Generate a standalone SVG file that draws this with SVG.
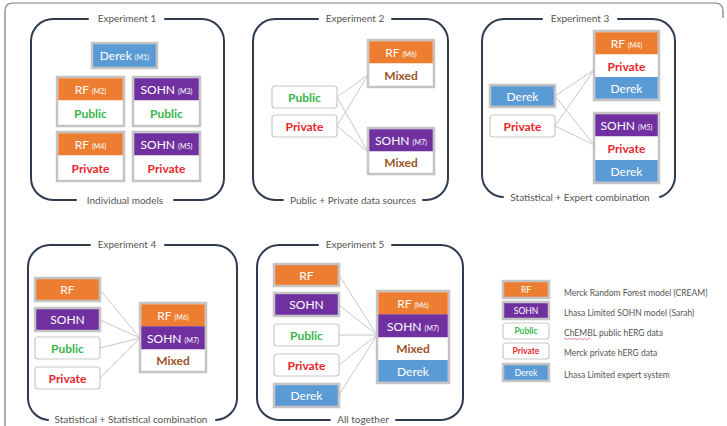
<svg xmlns="http://www.w3.org/2000/svg" width="727" height="426" viewBox="0 0 727 426">
<style>
text{font-family:Lato,"Open Sans","Liberation Sans",sans-serif;}
.frame{fill:none;stroke:#7a7a7a;stroke-width:1.2}
.br{fill:none;stroke:#2f3b4f;stroke-width:2;stroke-linecap:round}
.cap{font-size:10px;fill:#555;text-anchor:middle}
.box{stroke:#c4c4c4;stroke-width:2.5}
.or{fill:#ED7D31}.pu{fill:#7030A0}.bl{fill:#5B9BD5}.wh{fill:#fff}
.data{fill:#fff;stroke:#c9c9c9;stroke-width:1.2}
.lbl{font-size:12px;fill:#fff;text-anchor:middle}
.sm{font-size:7px}
.pub{font-size:12px;font-weight:bold;fill:#3AB54A;text-anchor:middle}
.pri{font-size:12px;font-weight:bold;fill:#E8262C;text-anchor:middle}
.mix{font-size:12px;font-weight:bold;fill:#9C5428;text-anchor:middle}
.ln{stroke:#c9c9c9;stroke-width:1;fill:none}
.lg{font-size:8.5px;text-anchor:middle}
.lt{font-size:8.5px;fill:#555}
</style>
<rect width="727" height="426" fill="#fff"/>
<path class="frame" d="M5,426 V11 Q5,3 13,3 H715 Q723,3 723,11 V18"/>

<g id="brackets">
<path class="br" d="M88,19 H53 A22 22 0 0 0 31,41 V178 A22 22 0 0 0 53,200 H76 M174,200 H202 A22 22 0 0 0 224,178 V41 A22 22 0 0 0 202,19 H165"/>
<text class="cap" x="127" y="22">Experiment 1</text>
<text class="cap" x="125" y="204">Individual models</text>

<path class="br" d="M318,19 H275 A22 22 0 0 0 253,41 V178 A22 22 0 0 0 275,200 H283 M423,200 H426 A22 22 0 0 0 448,178 V41 A22 22 0 0 0 426,19 H392"/>
<text class="cap" x="355" y="22">Experiment 2</text>
<text class="cap" x="353" y="204">Public + Private data sources</text>

<path class="br" d="M542,19 H504 A22 22 0 0 0 482,41 V175 A22 22 0 0 0 503,197 M660,197 A22 22 0 0 0 675,175 V41 A22 22 0 0 0 653,19 H618"/>
<text class="cap" x="580" y="201">Statistical + Expert combination</text>
<text class="cap" x="580" y="22">Experiment 3</text>

<path class="br" d="M90,245 H50 A22 22 0 0 0 28,267 V399 A22 22 0 0 0 48,420 M216,420 A22 22 0 0 0 237,399 V267 A22 22 0 0 0 215,245 H165"/>
<text class="cap" x="127" y="248">Experiment 4</text>
<text class="cap" x="131" y="423">Statistical + Statistical combination</text>

<path class="br" d="M318,245 H279 A22 22 0 0 0 257,267 V398 A22 22 0 0 0 279,420 H330 M396,420 H441 A22 22 0 0 0 463,398 V267 A22 22 0 0 0 441,245 H392"/>
<text class="cap" x="355" y="248">Experiment 5</text>
<text class="cap" x="363" y="422.5">All together</text>
</g>

<g id="connectors">
<path class="ln" d="M337,97 L368,75 M337,97 L368,152 M337,126 L368,75 M337,126 L368,152"/>
<path class="ln" d="M555,96 L594,70 M555,96 L594,145 M555,126 L594,70 M555,126 L594,145"/>
<path class="ln" d="M100,290 L140,338 M100,320 L140,338 M100,348 L140,338 M100,378 L140,338"/>
<path class="ln" d="M339,275 L377,335 M339,305 L377,335 M339,335 L377,335 M339,365 L377,335 M339,395 L377,335"/>
</g>

<!-- Experiment 1 -->
<g id="e1-derek-m1">
<rect class="box bl" x="92" y="43" width="65" height="25"/>
<text class="lbl" x="124.5" y="60">Derek <tspan class="sm">(M1)</tspan></text>
</g>
<g id="e1-rf-m2">
<rect class="box wh" x="57" y="77" width="67" height="49"/>
<rect class="or" x="58.25" y="78.25" width="64.5" height="22"/>
<text class="lbl" x="90.5" y="94">RF <tspan class="sm">(M2)</tspan></text>
<text class="pub" x="90.5" y="118">Public</text>
</g>
<g id="e1-sohn-m3">
<rect class="box wh" x="133" y="77" width="67" height="49"/>
<rect class="pu" x="134.25" y="78.25" width="64.5" height="22"/>
<text class="lbl" x="166.5" y="94">SOHN <tspan class="sm">(M3)</tspan></text>
<text class="pub" x="166.5" y="118">Public</text>
</g>
<g id="e1-rf-m4">
<rect class="box wh" x="57" y="132" width="67" height="49"/>
<rect class="or" x="58.25" y="133.25" width="64.5" height="22"/>
<text class="lbl" x="90.5" y="149">RF <tspan class="sm">(M4)</tspan></text>
<text class="pri" x="90.5" y="173">Private</text>
</g>
<g id="e1-sohn-m5">
<rect class="box wh" x="133" y="132" width="67" height="49"/>
<rect class="pu" x="134.25" y="133.25" width="64.5" height="22"/>
<text class="lbl" x="166.5" y="149">SOHN <tspan class="sm">(M5)</tspan></text>
<text class="pri" x="166.5" y="173">Private</text>
</g>

<!-- Experiment 2 -->
<g id="e2-public">
<rect class="data" x="272" y="86" width="65" height="22" rx="3"/>
<text class="pub" x="304.5" y="101.5">Public</text>
</g>
<g id="e2-private">
<rect class="data" x="272" y="115" width="65" height="22" rx="3"/>
<text class="pri" x="304.5" y="130.5">Private</text>
</g>
<g id="e2-rf-m6">
<rect class="box wh" x="368" y="40" width="66" height="47"/>
<rect class="or" x="369.25" y="41.25" width="63.5" height="22"/>
<text class="lbl" x="401" y="57">RF <tspan class="sm">(M6)</tspan></text>
<text class="mix" x="401" y="80">Mixed</text>
</g>
<g id="e2-sohn-m7">
<rect class="box wh" x="368" y="128" width="66" height="46"/>
<rect class="pu" x="369.25" y="129.25" width="63.5" height="22"/>
<text class="lbl" x="401" y="145">SOHN <tspan class="sm">(M7)</tspan></text>
<text class="mix" x="401" y="167">Mixed</text>
</g>

<!-- Experiment 3 -->
<g id="e3-derek">
<rect class="box bl" x="490" y="85" width="65" height="22"/>
<text class="lbl" x="522.5" y="100.5">Derek</text>
</g>
<g id="e3-private">
<rect class="data" x="490" y="115" width="65" height="22" rx="3"/>
<text class="pri" x="522.5" y="130.5">Private</text>
</g>
<g id="e3-rf-m4">
<rect class="box wh" x="594" y="31" width="65" height="69"/>
<rect class="or" x="595.25" y="32.25" width="62.5" height="22"/>
<rect class="bl" x="595.25" y="77" width="62.5" height="21.75"/>
<text class="lbl" x="626.5" y="48">RF <tspan class="sm">(M4)</tspan></text>
<text class="pri" x="626.5" y="70.5">Private</text>
<text class="lbl" x="626.5" y="93">Derek</text>
</g>
<g id="e3-sohn-m5">
<rect class="box wh" x="594" y="113" width="65" height="70"/>
<rect class="pu" x="595.25" y="114.25" width="62.5" height="22"/>
<rect class="bl" x="595.25" y="160" width="62.5" height="21.75"/>
<text class="lbl" x="626.5" y="130">SOHN <tspan class="sm">(M5)</tspan></text>
<text class="pri" x="626.5" y="153">Private</text>
<text class="lbl" x="626.5" y="176">Derek</text>
</g>

<!-- Experiment 4 -->
<g id="e4-rf">
<rect class="box or" x="35" y="278" width="65" height="23"/>
<text class="lbl" x="67.5" y="294">RF</text>
</g>
<g id="e4-sohn">
<rect class="box pu" x="35" y="308" width="65" height="23"/>
<text class="lbl" x="67.5" y="324">SOHN</text>
</g>
<g id="e4-public">
<rect class="data" x="35" y="337" width="65" height="22" rx="3"/>
<text class="pub" x="67.5" y="352.5">Public</text>
</g>
<g id="e4-private">
<rect class="data" x="35" y="367" width="65" height="22" rx="3"/>
<text class="pri" x="67.5" y="382.5">Private</text>
</g>
<g id="e4-combined">
<rect class="box wh" x="140" y="303" width="66" height="69"/>
<rect class="or" x="141.25" y="304.25" width="63.5" height="22"/>
<rect class="pu" x="141.25" y="326.25" width="63.5" height="23"/>
<text class="lbl" x="173" y="320">RF <tspan class="sm">(M6)</tspan></text>
<text class="lbl" x="173" y="343">SOHN <tspan class="sm">(M7)</tspan></text>
<text class="mix" x="173" y="365">Mixed</text>
</g>

<!-- Experiment 5 -->
<g id="e5-rf">
<rect class="box or" x="274" y="264" width="65" height="22"/>
<text class="lbl" x="306.5" y="279.5">RF</text>
</g>
<g id="e5-sohn">
<rect class="box pu" x="274" y="293" width="65" height="23"/>
<text class="lbl" x="306.5" y="309">SOHN</text>
</g>
<g id="e5-public">
<rect class="data" x="274" y="324" width="65" height="22" rx="3"/>
<text class="pub" x="306.5" y="339.5">Public</text>
</g>
<g id="e5-private">
<rect class="data" x="274" y="354" width="65" height="22" rx="3"/>
<text class="pri" x="306.5" y="369.5">Private</text>
</g>
<g id="e5-derek">
<rect class="box bl" x="274" y="384" width="65" height="23"/>
<text class="lbl" x="306.5" y="400">Derek</text>
</g>
<g id="e5-combined">
<rect class="box wh" x="377" y="291" width="72" height="92"/>
<rect class="or" x="378.25" y="292.25" width="69.5" height="22"/>
<rect class="pu" x="378.25" y="314.25" width="69.5" height="23"/>
<rect class="bl" x="378.25" y="360" width="69.5" height="21.75"/>
<text class="lbl" x="413" y="308">RF <tspan class="sm">(M6)</tspan></text>
<text class="lbl" x="413" y="331">SOHN <tspan class="sm">(M7)</tspan></text>
<text class="mix" x="413" y="353">Mixed</text>
<text class="lbl" x="413" y="376">Derek</text>
</g>

<!-- Legend -->
<g id="legend-rf">
<rect class="box or" x="503" y="281" width="46" height="17"/>
<text class="lbl lg" x="526" y="292.5">RF</text>
<text class="lt" x="564" y="296">Merck Random Forest model (CREAM)</text>
</g>
<g id="legend-sohn">
<rect class="box pu" x="503" y="302" width="46" height="17"/>
<text class="lbl lg" x="526" y="313.5">SOHN</text>
<text class="lt" x="564" y="316">Lhasa Limited SOHN model (Sarah)</text>
</g>
<g id="legend-public">
<rect class="data" x="503" y="323" width="46" height="16" rx="3"/>
<text class="pub lg" x="526" y="334">Public</text>
<text class="lt" x="564" y="336">ChEMBL public hERG data</text>
<path d="M564,339 q1.2,-1.2 2.4,0 t2.4,0 t2.4,0 t2.4,0 t2.4,0 t2.4,0 t2.4,0 t2.4,0 t2.4,0 t2.4,0 t2.4,0" fill="none" stroke="#e05050" stroke-width="0.7"/>
</g>
<g id="legend-private">
<rect class="data" x="503" y="343" width="46" height="16" rx="3"/>
<text class="pri lg" x="526" y="354">Private</text>
<text class="lt" x="564" y="356">Merck private hERG data</text>
</g>
<g id="legend-derek">
<rect class="box bl" x="503" y="364" width="46" height="17"/>
<text class="lbl lg" x="526" y="375.5">Derek</text>
<text class="lt" x="564" y="378">Lhasa Limited expert system</text>
</g>
</svg>
